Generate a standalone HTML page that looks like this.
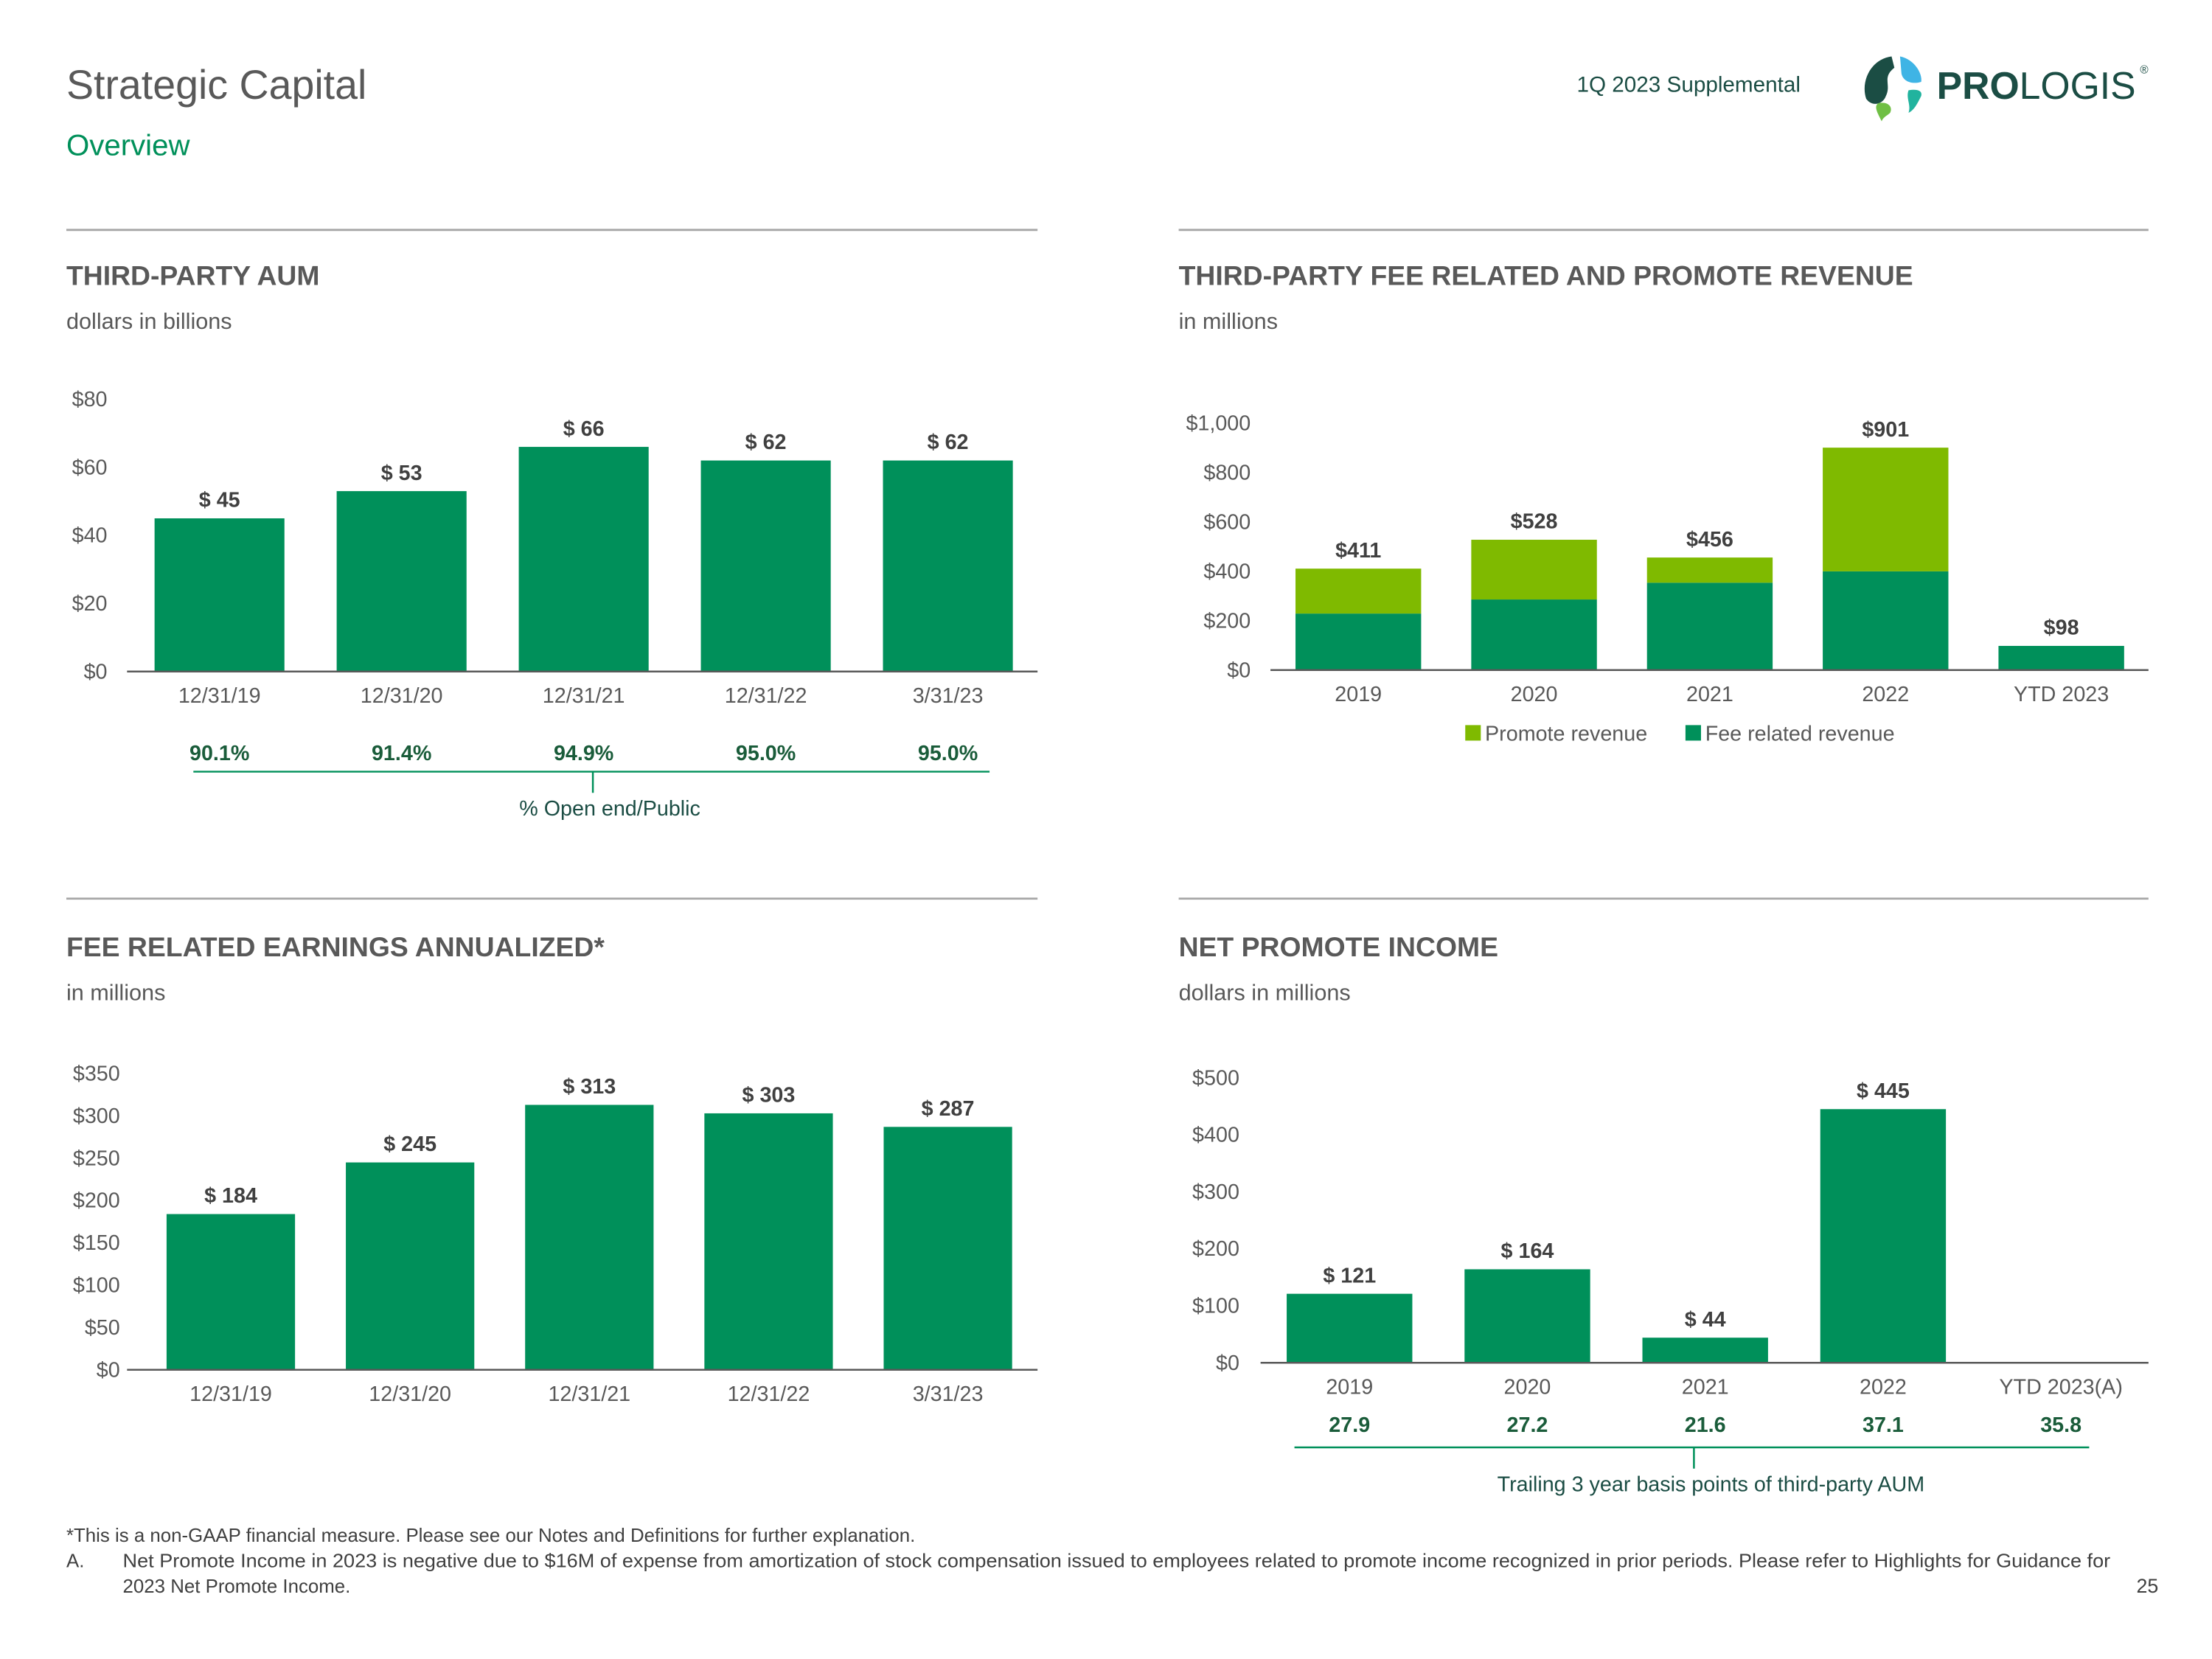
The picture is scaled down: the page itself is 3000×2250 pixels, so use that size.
<!DOCTYPE html>
<html><head><meta charset="utf-8"><style>
html,body{margin:0;padding:0;background:#fff;}
svg{display:block;font-family:"Liberation Sans",sans-serif;}
</style></head><body>
<svg id="s" width="3000" height="2250" viewBox="0 0 1567 1176" preserveAspectRatio="none" xmlns="http://www.w3.org/2000/svg">
<text x="47" y="70" font-size="29" fill="#595959">Strategic Capital</text>
<text x="47" y="110" font-size="21" fill="#00905a">Overview</text>
<text x="1117" y="65" font-size="15.5" fill="#1b4d44">1Q 2023 Supplemental</text>
<g>
<path d="M1340 40 C1325 42 1318 58 1322 70 C1326 76 1334 74 1336 68 C1340 60 1333 55 1342 48 Z" fill="#1b4d44"/>
<path d="M1346 40 C1356 42 1362 52 1361 58 C1355 60 1348 58 1347 52 Z" fill="#3fb4e5"/>
<path d="M1352 64 C1358 63 1362 64 1361 68 C1358 74 1356 78 1352 80 C1354 74 1350 70 1352 64 Z" fill="#21b39e"/>
<path d="M1331 73 C1338 72 1341 76 1339 80 C1337 82 1334 83 1333 86 C1330 80 1327 75 1331 73 Z" fill="#6fbf44"/>
<text x="1372" y="70" font-size="27" fill="#1b4d44"><tspan font-weight="bold">PRO</tspan>LOGIS</text>
<text x="1516" y="52" font-size="8" fill="#1b4d44">®</text>
</g>
<line x1="47" y1="163" x2="735" y2="163" stroke="#a6a6a6" stroke-width="1.5"/>
<line x1="835" y1="163" x2="1522" y2="163" stroke="#a6a6a6" stroke-width="1.5"/>
<line x1="47" y1="637" x2="735" y2="637" stroke="#a6a6a6" stroke-width="1.5"/>
<line x1="835" y1="637" x2="1522" y2="637" stroke="#a6a6a6" stroke-width="1.5"/>
<g font-size="19.5" font-weight="bold" fill="#595959">
<text x="47" y="202">THIRD-PARTY AUM</text>
<text x="835" y="202">THIRD-PARTY FEE RELATED AND PROMOTE REVENUE</text>
<text x="47" y="678">FEE RELATED EARNINGS ANNUALIZED*</text>
<text x="835" y="678">NET PROMOTE INCOME</text>
</g>
<g font-size="16" fill="#595959">
<text x="47" y="233">dollars in billions</text>
<text x="835" y="233">in millions</text>
<text x="47" y="709">in millions</text>
<text x="835" y="709">dollars in millions</text>
</g>
<g id="c1"></g>
<g id="c2"></g>
<g id="c3"></g>
<g id="c4"></g>
<g font-size="13.5" fill="#404040">
<text x="47" y="1093">*This is a non-GAAP financial measure. Please see our Notes and Definitions for further explanation.</text>
<text x="47" y="1111">A.</text>
<text x="87" y="1111" textLength="1408" lengthAdjust="spacingAndGlyphs">Net Promote Income in 2023 is negative due to $16M of expense from amortization of stock compensation issued to employees related to promote income recognized in prior periods. Please refer to Highlights for Guidance for</text>
<text x="87" y="1129">2023 Net Promote Income.</text>
<text x="1529" y="1129" text-anchor="end" font-size="14">25</text>
</g>
</svg>
<script>
const NS="http://www.w3.org/2000/svg";
const aumCats=["12/31/19","12/31/20","12/31/21","12/31/22","3/31/23"];
const aumVals=[45,53,66,62,62];
const aumTicks=[0,20,40,60,80];
const aumPct=["90.1%","91.4%","94.9%","95.0%","95.0%"];
const revCats=["2019","2020","2021","2022","YTD 2023"];
const revFee=[229,286,354,400,98];
const revPromote=[182,242,102,501,0];
const revTotals=["$411","$528","$456","$901","$98"];
const revTicks=[0,200,400,600,800,1000];
const freCats=["12/31/19","12/31/20","12/31/21","12/31/22","3/31/23"];
const freVals=[184,245,313,303,287];
const freTicks=[0,50,100,150,200,250,300,350];
const npiCats=["2019","2020","2021","2022","YTD 2023(A)"];
const npiVals=[121,164,44,445,null];
const npiTicks=[0,100,200,300,400,500];
const npiBps=["27.9","27.2","21.6","37.1","35.8"];

function el(p,tag,a,txt){const e=document.createElementNS(NS,tag);for(const k in a)e.setAttribute(k,a[k]);if(txt!=null)e.textContent=txt;p.appendChild(e);return e;}
function fmt(v){return "$"+v.toLocaleString("en-US");}
const G1="#00905a",G2="#7fba00",DK="#1a5c3a";

function chart(g,o){
  const y=v=>o.base-(v/o.max)*(o.base-o.top);
  const x=i=>o.x0+o.step*(i+0.5);
  o.ticks.forEach(t=>{const e=el(g,"text",{x:o.tx,y:y(t)+5,"text-anchor":"end","font-size":15,fill:"#595959"},fmt(t));
    
    });
  o.cats.forEach((c,i)=>{
    let acc=0;
    o.series.forEach((s,k)=>{const v=s.vals[i];if(v==null||v<=0)return;
      const r=el(g,"rect",{x:x(i)-o.bw/2,y:y(acc+v),width:o.bw,height:y(acc)-y(acc+v),fill:s.color});
      
      
      acc+=v;});
    if(acc>0){const lb=el(g,"text",{x:x(i),y:y(acc)-8,"text-anchor":"middle","font-size":15,"font-weight":"bold",fill:"#404040"},o.labels?o.labels[i]:"$ "+acc);
      
      }
    const cl=el(g,"text",{x:x(i),y:o.base+22,"text-anchor":"middle","font-size":15,fill:"#595959"},c);
    
    
  });
  const ax=el(g,"line",{x1:o.ax1,y1:o.base,x2:o.ax2,y2:o.base,stroke:"#595959","stroke-width":1.3});
  
  
  return x;
}
function sub(g,x,vals,yv,lx1,lx2,ly,tx,cap){
  vals.forEach((v,i)=>{const t=el(g,"text",{x:x(i),y:yv,"text-anchor":"middle","font-size":15,"font-weight":"bold",fill:DK},v);
    
    });
  const l=el(g,"path",{d:`M${lx1} ${ly}H${lx2}M${tx} ${ly}V${ly+15}`,stroke:G1,"stroke-width":1.3,fill:"none"});
  
  
  const c=el(g,"text",{x:tx+12,y:ly+31,"text-anchor":"middle","font-size":15,fill:"#1b4d44"},cap);
  
  
}
const c1=document.getElementById("c1");
const x1=chart(c1,{cats:aumCats,series:[{name:"aum",vals:aumVals,color:G1}],ticks:aumTicks,max:80,base:476,top:283,x0:91,step:129,bw:92,tx:76,ax1:90,ax2:735});
sub(c1,x1,aumPct,539,137,701,547,420,"% Open end/Public");
const c2=document.getElementById("c2");
chart(c2,{cats:revCats,series:[{name:"fee",vals:revFee,color:G1},{name:"promote",vals:revPromote,color:G2}],labels:revTotals,ticks:revTicks,max:1000,base:475,top:300,x0:900,step:124.5,bw:89,tx:886,ax1:900,ax2:1522});
[[1038,G2,"Promote revenue"],[1194,G1,"Fee related revenue"]].forEach(([lx,col,t])=>{
  const r=el(c2,"rect",{x:lx,y:514,width:11,height:11,fill:col});
  
  
  const tt=el(c2,"text",{x:lx+14,y:525,"font-size":15,fill:"#595959"},t);
  
  });
const c3=document.getElementById("c3");
chart(c3,{cats:freCats,series:[{name:"fre",vals:freVals,color:G1}],ticks:freTicks,max:350,base:971,top:761,x0:100,step:127,bw:91,tx:85,ax1:90,ax2:735});
const c4=document.getElementById("c4");
const x4=chart(c4,{cats:npiCats,series:[{name:"npi",vals:npiVals,color:G1}],ticks:npiTicks,max:500,base:966,top:764,x0:893,step:126,bw:89,tx:878,ax1:893,ax2:1522});
sub(c4,x4,npiBps,1015,917,1480,1026,1200,"Trailing 3 year basis points of third-party AUM");
</script>
</body></html>
